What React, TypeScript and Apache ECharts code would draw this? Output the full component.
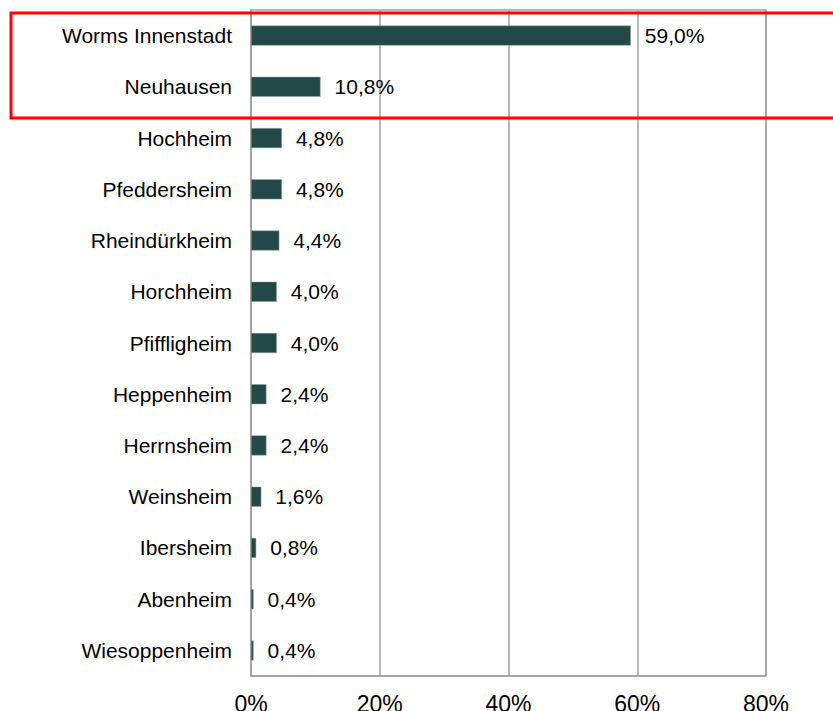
import React, { useEffect, useRef } from "react";
import * as echarts from "echarts";

const categories = [
  "Worms Innenstadt",
  "Neuhausen",
  "Hochheim",
  "Pfeddersheim",
  "Rheindürkheim",
  "Horchheim",
  "Pfiffligheim",
  "Heppenheim",
  "Herrnsheim",
  "Weinsheim",
  "Ibersheim",
  "Abenheim",
  "Wiesoppenheim",
];
const values = [59.0, 10.8, 4.8, 4.8, 4.4, 4.0, 4.0, 2.4, 2.4, 1.6, 0.8, 0.4, 0.4];
const xTicks = [0, 20, 40, 60, 80];

const FONT = "'Liberation Sans', Arial, sans-serif";

export default function App() {
  const ref = useRef<HTMLDivElement>(null);
  useEffect(() => {
    if (!ref.current) return;
    const chart = echarts.init(ref.current, undefined, { renderer: "svg" });
    chart.setOption({
      animation: false,
      backgroundColor: "#ffffff",
      grid: {
        left: 251,
        right: 67,
        top: 10,
        bottom: 35,
        show: true,
        borderColor: "#a0a0a0",
        borderWidth: 1.5,
        containLabel: false,
        outerBoundsMode: "none",
      },
      xAxis: {
        type: "value",
        min: xTicks[0],
        max: xTicks[xTicks.length - 1],
        interval: 20,
        axisLine: { show: true, lineStyle: { color: "#a0a0a0", width: 1.5 } },
        axisTick: { show: false },
        splitLine: { show: true, lineStyle: { color: "#a0a0a0", width: 1.5 } },
        axisLabel: {
          color: "#000",
          fontFamily: FONT,
          fontSize: 23,
          margin: 16,
          formatter: (v: number) => `${v}%`,
        },
      },
      yAxis: {
        type: "category",
        data: categories,
        inverse: true,
        axisLine: { show: true, lineStyle: { color: "#a0a0a0", width: 1.5 } },
        axisTick: { show: false },
        axisLabel: { color: "#000", fontFamily: FONT, fontSize: 21, margin: 19 },
      },
      series: [
        {
          type: "bar",
          data: values,
          barWidth: 20,
          itemStyle: { color: "#234848", borderColor: "#8fa3a3", borderWidth: 0.5 },
          label: {
            show: true,
            position: "right",
            distance: 14,
            color: "#000",
            fontFamily: FONT,
            fontSize: 21,
            formatter: (p: any) => `${p.value.toFixed(1).replace(".", ",")}%`,
          },
        },
      ],
      graphic: [
        {
          type: "rect",
          shape: { x: 11, y: 13, width: 840, height: 105 },
          style: { fill: "none", stroke: "#ff0000", lineWidth: 3 },
          z: 100,
        },
      ],
    });
    return () => chart.dispose();
  }, []);
  return (
    <div
      ref={ref}
      style={{ position: "fixed", left: 0, top: 0, width: 833, height: 711 }}
    />
  );
}
